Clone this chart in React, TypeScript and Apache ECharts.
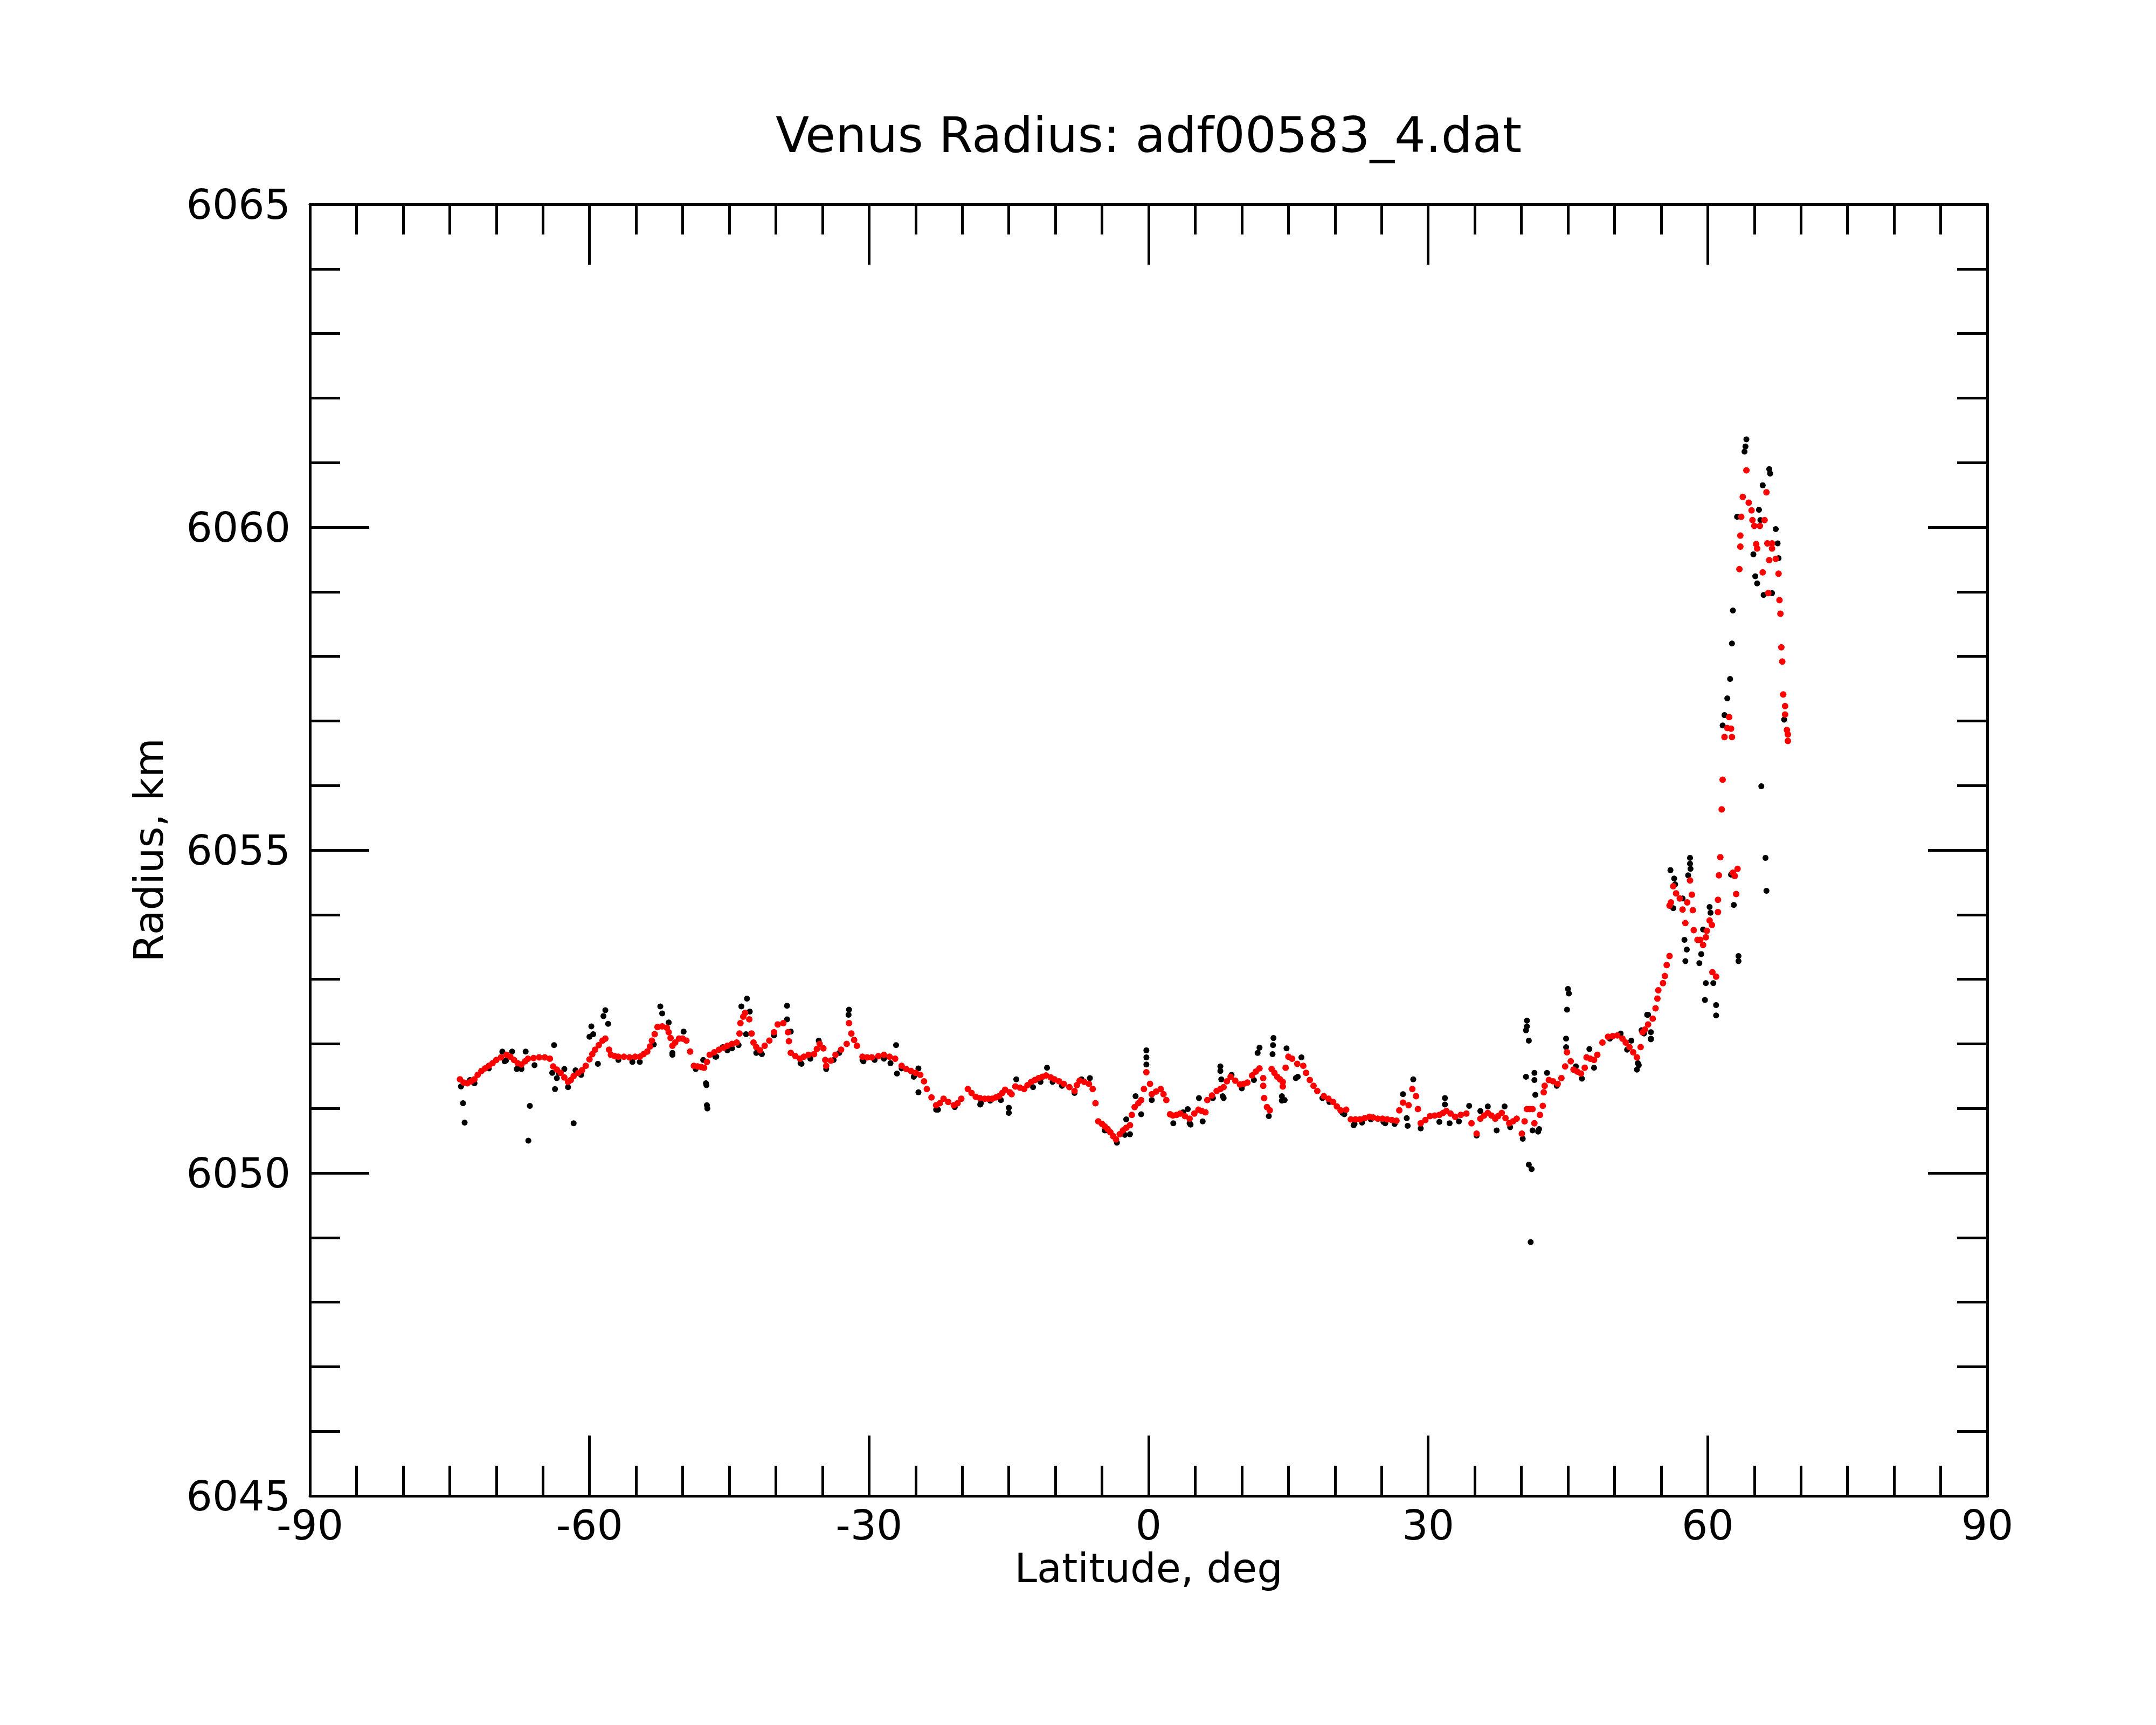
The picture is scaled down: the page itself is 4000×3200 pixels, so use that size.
import React, { useEffect, useRef } from "react";
import * as echarts from "echarts";

// Smoothed radius (red) — latitude (deg) and radius (km)
const redLat = [
  -73.9, -73.5, -73.1, -72.7, -72.35, -72.0, -71.6, -71.2, -70.8, -70.4, -70.0, -69.5, -68.9, -68.5, -68.1, -67.7,
  -67.3, -66.9, -66.6, -66.0, -65.4, -64.8, -64.25, -63.9, -63.5, -63.1, -62.7, -62.3, -62.0, -61.7, -61.2, -60.8,
  -60.4, -60.0, -59.7, -59.4, -59.0, -58.6, -58.3, -57.9, -57.7, -57.3, -56.9, -56.3, -55.7, -55.1, -54.6, -54.2,
  -53.8, -53.5, -53.3, -53.0, -52.7, -52.2, -51.7, -51.5, -51.3, -51.1, -50.8, -50.4, -50.0, -49.6, -49.2, -48.8,
  -48.4, -48.0, -47.7, -47.4, -47.1, -46.6, -46.1, -45.6, -45.2, -44.7, -44.2, -43.9, -43.8, -43.5, -43.3, -42.85,
  -42.6, -42.4, -42.1, -41.7, -41.2, -40.7, -40.2, -39.8, -39.2, -38.7, -38.6, -38.4, -37.9, -37.4, -37.0, -36.5,
  -35.9, -35.6, -35.3, -34.9, -34.7, -34.6, -34.1, -33.6, -33.0, -32.4, -32.15, -31.9, -31.6, -31.3, -30.7, -30.2,
  -29.7, -29.0, -28.4, -27.8, -27.2, -26.5, -26.0, -25.5, -25.0, -24.5, -24.1, -23.8, -23.3, -22.8, -22.4, -22.0,
  -21.5, -20.9, -20.5, -20.1, -19.4, -19.0, -18.55, -18.1, -17.6, -17.2, -16.8, -16.4, -16.05, -15.7, -15.4, -14.9,
  -14.7, -14.3, -13.8, -13.35, -13.0, -12.6, -12.2, -11.8, -11.4, -11.0, -10.5, -10.1, -9.6, -9.1, -8.5, -7.95,
  -7.7, -7.4, -6.9, -6.4, -6.0, -5.7, -5.4, -5.0, -4.7, -4.4, -4.1, -3.8, -3.5, -3.1, -2.75, -2.4,
  -2.0, -1.8, -1.5, -1.1, -0.8, -0.5, -0.24, 0.15, 0.34, 0.8, 1.3, 1.6, 1.9, 2.3, 2.6, 3.0,
  3.4, 3.9, 4.4, 4.9, 5.35, 5.7, 6.1, 6.3, 6.8, 7.3, 7.7, 8.05, 8.4, 8.8, 9.3, 9.8,
  10.2, 10.6, 11.1, 11.5, 11.9, 12.3, 12.3, 12.4, 12.7, 13.0, 13.2, 13.5, 13.8, 14.1, 14.4, 14.4,
  14.7, 15.0, 15.4, 15.95, 16.6, 16.9, 17.3, 17.7, 18.1, 18.8, 19.3, 19.8, 20.2, 20.6, 21.2, 21.7,
  22.2, 22.7, 23.2, 23.7, 24.1, 24.6, 25.1, 25.6, 26.1, 26.6, 26.9, 27.3, 27.9, 28.3, 28.7, 28.9,
  29.2, 29.7, 30.2, 30.7, 31.2, 31.6, 31.95, 32.4, 32.9, 33.5, 34.1, 34.65, 35.2, 35.6, 36.0, 36.4,
  36.8, 37.2, 37.5, 37.9, 38.3, 38.7, 39.1, 39.5, 40.05, 40.35, 40.6, 40.9, 41.2, 41.4, 42.0, 42.3,
  42.4, 42.5, 42.95, 43.4, 43.9, 44.3, 44.7, 44.9, 45.3, 45.6, 46.0, 46.4, 46.8, 47.0, 47.4, 47.8,
  48.15, 48.7, 49.3, 49.8, 50.3, 50.85, 51.2, 51.6, 52.0, 52.4, 52.8, 53.0, 53.25, 53.6, 54.1, 54.4,
  54.6, 54.7, 55.2, 55.4, 55.6, 55.9, 55.9, 56.05, 56.3, 56.6, 57.0, 57.3, 57.6, 57.8, 58.1, 58.3,
  58.4, 58.5, 58.9, 59.2, 59.5, 59.8, 59.9, 60.2, 60.45, 60.5, 60.9, 61.1, 61.1, 61.2, 61.35, 61.5,
  61.6, 61.8, 62.1, 62.3, 62.5, 62.6, 62.7, 62.9, 63.05, 63.2, 63.4, 63.5, 63.5, 63.6, 63.76, 64.15,
  64.4, 64.7, 64.8, 65.0, 65.2, 65.3, 65.6, 65.9, 66.1, 66.3, 66.4, 66.5, 66.6, 66.9, 66.9, 67.3,
  67.6, 67.7, 67.8, 67.9, 68.0, 68.1, 68.3, 68.3, 68.5, 68.6, 68.6,
];
const redRadius = [
  6051.45, 6051.40, 6051.39, 6051.42, 6051.45, 6051.52, 6051.58, 6051.62, 6051.66, 6051.70, 6051.75, 6051.79, 6051.83, 6051.80, 6051.75, 6051.70,
  6051.68, 6051.73, 6051.77, 6051.78, 6051.79, 6051.79, 6051.77, 6051.65, 6051.60, 6051.55, 6051.48, 6051.41, 6051.44, 6051.50, 6051.55, 6051.59,
  6051.66, 6051.76, 6051.84, 6051.91, 6051.98, 6052.05, 6052.08, 6051.91, 6051.83, 6051.81, 6051.80, 6051.80, 6051.79, 6051.80, 6051.80, 6051.84,
  6051.88, 6051.96, 6052.05, 6052.15, 6052.26, 6052.27, 6052.25, 6052.18, 6052.09, 6051.97, 6052.02, 6052.08, 6052.08, 6052.05, 6051.88, 6051.66,
  6051.65, 6051.64, 6051.63, 6051.72, 6051.83, 6051.87, 6051.91, 6051.94, 6051.97, 6052.00, 6052.02, 6052.16, 6052.32, 6052.42, 6052.48, 6052.38,
  6052.16, 6052.02, 6051.95, 6051.90, 6051.97, 6052.05, 6052.18, 6052.30, 6052.32, 6052.18, 6052.04, 6051.86, 6051.81, 6051.77, 6051.80, 6051.83,
  6051.84, 6051.92, 6052.00, 6051.93, 6051.75, 6051.66, 6051.74, 6051.83, 6051.91, 6052.00, 6052.32, 6052.16, 6052.06, 6051.97, 6051.80, 6051.79,
  6051.79, 6051.81, 6051.83, 6051.80, 6051.77, 6051.66, 6051.61, 6051.58, 6051.55, 6051.52, 6051.42, 6051.30, 6051.17, 6051.05, 6051.08, 6051.15,
  6051.10, 6051.05, 6051.08, 6051.15, 6051.30, 6051.24, 6051.18, 6051.16, 6051.15, 6051.15, 6051.15, 6051.17, 6051.19, 6051.24, 6051.29, 6051.25,
  6051.22, 6051.34, 6051.32, 6051.30, 6051.36, 6051.41, 6051.44, 6051.47, 6051.49, 6051.51, 6051.48, 6051.45, 6051.42, 6051.38, 6051.33, 6051.27,
  6051.36, 6051.43, 6051.41, 6051.38, 6051.30, 6051.08, 6050.80, 6050.76, 6050.72, 6050.68, 6050.63, 6050.57, 6050.52, 6050.60, 6050.66, 6050.70,
  6050.74, 6050.90, 6051.02, 6051.08, 6051.13, 6051.30, 6051.56, 6051.38, 6051.22, 6051.26, 6051.30, 6051.22, 6051.13, 6050.91, 6050.89, 6050.90,
  6050.92, 6050.88, 6050.84, 6050.92, 6050.98, 6050.96, 6050.94, 6051.13, 6051.20, 6051.27, 6051.30, 6051.33, 6051.42, 6051.49, 6051.43, 6051.37,
  6051.38, 6051.40, 6051.51, 6051.57, 6051.62, 6051.47, 6051.35, 6051.16, 6051.02, 6050.97, 6051.61, 6051.55, 6051.49, 6051.45, 6051.41, 6051.34,
  6051.63, 6051.80, 6051.77, 6051.69, 6051.66, 6051.55, 6051.44, 6051.35, 6051.27, 6051.19, 6051.15, 6051.10, 6051.03, 6050.97, 6050.98, 6050.83,
  6050.83, 6050.83, 6050.85, 6050.87, 6050.86, 6050.84, 6050.84, 6050.83, 6050.82, 6050.81, 6050.97, 6051.09, 6051.05, 6051.30, 6051.19, 6050.99,
  6050.77, 6050.82, 6050.88, 6050.89, 6050.90, 6050.93, 6050.96, 6050.92, 6050.87, 6050.90, 6050.92, 6050.77, 6050.61, 6050.84, 6050.89, 6050.93,
  6050.89, 6050.84, 6050.88, 6050.93, 6050.85, 6050.77, 6050.80, 6050.84, 6050.61, 6050.80, 6050.99, 6050.99, 6050.99, 6050.77, 6050.90, 6051.04,
  6051.25, 6051.35, 6051.44, 6051.42, 6051.38, 6051.47, 6051.65, 6051.87, 6051.73, 6051.60, 6051.57, 6051.54, 6051.63, 6051.79, 6051.77, 6051.75,
  6051.83, 6052.02, 6052.11, 6052.12, 6052.13, 6052.08, 6052.02, 6051.95, 6051.87, 6051.79, 6051.95, 6052.18, 6052.22, 6052.30, 6052.39, 6052.55,
  6052.70, 6052.83, 6052.94, 6053.05, 6053.22, 6053.36, 6054.14, 6054.19, 6054.44, 6054.33, 6054.25, 6054.08, 6053.87, 6054.19, 6054.53, 6054.31,
  6054.07, 6053.76, 6053.61, 6053.61, 6053.53, 6053.65, 6053.75, 6053.91, 6053.84, 6053.11, 6053.04, 6054.04, 6054.23, 6054.61, 6054.89, 6055.63,
  6056.09, 6056.75, 6056.89, 6057.06, 6056.88, 6056.75, 6054.65, 6054.60, 6054.32, 6054.71, 6059.35, 6059.70, 6059.87, 6060.16, 6060.47, 6060.88,
  6060.38, 6060.26, 6060.11, 6060.02, 6059.74, 6059.67, 6060.02, 6059.30, 6060.11, 6060.54, 6059.75, 6058.98, 6059.49, 6059.75, 6059.67, 6059.51,
  6059.28, 6058.87, 6058.66, 6058.14, 6057.92, 6057.41, 6057.23, 6057.10, 6056.86, 6056.79, 6056.69,
];

// Raw radius (black) — points visible beside / beyond the smoothed curve
const blackLat = [
  -73.79, -72.82, -72.34, -70.8, -69.35, -68.97, -68.3, -67.6, -66.85, -65.9, -73.57, -73.4, -66.4, -66.56,
  -63.8, -63.7, -63.5, -62.3, -61.7, -60.0, -59.8, -59.6, -59.1, -58.5, -58.3, -58.0,
  -52.4, -52.2, -51.5, -51.1, -49.9,
  -47.5, -47.45, -47.4, -47.35, -43.7, -43.1, -42.8, -43.2, -38.8, -38.8, -35.4, -34.6, -32.2, -32.15,
  -27.1, -27.0, -24.7, -24.7, -46.4, -45.2, -41.6, -37.35, -30.7, -29.4, -25.1,
  -15.0, -15.0, -14.2, -10.9, -6.3, -0.24, -0.24, -0.24, -1.4, -0.8, -2.0, -3.4,
  -18.0, -20.8, -9.3, -7.95, -4.7,
  5.4, 7.7, 7.7, 7.8, 11.9, 11.7, 13.4, 13.35, 13.3, 12.9, 14.3, 14.3, 16.0, 14.8,
  27.3, 27.7, 27.8, 28.4, 29.2, 4.4, 5.8, 7.95, 22.1, 25.2, 20.8,
  31.8, 31.8, 34.4, 36.4, 37.35, 35.2, 40.15, 40.6, 40.6, 40.5, 40.8, 40.5, 41.4, 41.4, 41.5,
  41.2, 41.9, 40.8, 41.1, 41.0, 45.0, 45.1, 44.9, 44.8, 44.8, 42.75, 47.3, 52.4, 52.5, 53.9, 53.6, 51.8,
  64.05, 63.95, 64.15, 66.6, 66.7, 65.9, 65.5, 65.65, 63.15, 67.3, 67.5, 64.9, 67.6, 65.1, 65.3,
  66.0, 66.9, 62.7, 62.6, 62.4, 62.1, 61.8, 61.6, 68.2, 65.75, 66.2, 66.3,
  58.1, 58.1, 58.15, 56.0, 56.4, 56.5, 57.9, 60.2, 60.3, 62.8, 62.5, 57.5, 57.75, 57.6,
  59.1, 59.3, 59.5, 63.3, 63.3, 59.8, 60.6, 59.7, 60.9, 60.9, 57.3, 56.3, 53.5, 53.9, 53.9, 53.16,
  -69.1, -67.8, -67.3, -64.0, -63.3, -62.7, -61.5, -60.9, -56.9, -55.4, -54.6, -53.1, -51.1,
  -48.6, -47.8, -46.5, -45.7, -44.7, -44.0, -42.1, -41.5, -40.2, -38.4, -37.25, -36.3, -33.8, -33.2,
  -30.6, -28.4, -27.7, -26.5, -25.2, -22.8,
  -22.6, -18.07, -17.0, -15.85, -12.4, -11.6, -10.3, -7.2, -4.4, -2.55, -2.4, 0.34, 2.65,
  3.7, 4.2, 4.5, 6.9, 8.05, 8.9, 10.0, 11.3, 14.6, 15.8, 16.4, 18.65, 19.4, 21.0, 22.0, 22.9, 23.85, 25.4, 26.4,
  31.2, 32.3, 33.3, 35.6, 38.2, 38.8, 41.8, 43.8, 45.85, 46.5, 47.8, 49.5, 50.65, 51.35, 52.6, 52.9,
];
const blackRadius = [
  6051.34, 6051.44, 6051.39, 6051.62, 6051.88, 6051.74, 6051.88, 6051.63, 6051.88, 6051.67, 6051.08, 6050.78, 6051.04, 6050.50,
  6051.98, 6051.30, 6051.47, 6051.33, 6050.77, 6052.11, 6052.27, 6052.15, 6051.69, 6052.43, 6052.52, 6052.31,
  6052.58, 6052.47, 6052.33, 6051.83, 6052.19,
  6051.39, 6051.36, 6051.05, 6051.00, 6052.58, 6052.70, 6052.50, 6052.15, 6052.59, 6052.38, 6052.05, 6051.61, 6052.45, 6052.53,
  6051.98, 6051.54, 6051.62, 6051.25, 6051.80, 6051.90, 6051.86, 6051.70, 6051.75, 6051.75, 6051.52,
  6051.01, 6050.93, 6051.45, 6051.63, 6051.47, 6051.90, 6051.79, 6051.68, 6051.19, 6050.91, 6050.60, 6050.47,
  6051.08, 6051.02, 6051.35, 6051.24, 6050.66,
  6051.16, 6051.65, 6051.58, 6051.45, 6051.94, 6051.86, 6052.09, 6051.98, 6051.84, 6050.88, 6051.19, 6051.12, 6051.49, 6051.93,
  6051.22, 6050.85, 6050.73, 6051.45, 6050.69, 6050.77, 6050.80, 6051.19, 6050.76, 6050.79, 6050.93,
  6051.16, 6051.06, 6051.04, 6051.03, 6050.66, 6050.58, 6050.53, 6052.36, 6052.27, 6052.21, 6052.05, 6051.49, 6051.55, 6051.44, 6051.21,
  6050.66, 6050.68, 6050.13, 6050.06, 6048.93, 6052.85, 6052.78, 6052.53, 6052.08, 6051.95, 6051.55, 6051.92, 6051.60, 6051.70, 6052.08, 6052.45, 6052.05,
  6061.25, 6061.17, 6061.36, 6060.90, 6060.83, 6060.65, 6060.27, 6060.11, 6060.16, 6059.97, 6059.75, 6059.58, 6059.52, 6059.24, 6059.13,
  6058.95, 6058.98, 6058.71, 6058.20, 6057.65, 6057.35, 6057.09, 6056.93, 6057.02, 6055.99, 6054.88, 6054.37,
  6054.88, 6054.79, 6054.71, 6054.69, 6054.56, 6054.47, 6054.61, 6054.12, 6054.03, 6054.15, 6054.62, 6053.61, 6053.46, 6053.28,
  6053.25, 6053.39, 6053.77, 6053.36, 6053.28, 6052.94, 6052.94, 6052.68, 6052.60, 6052.44, 6054.25, 6054.10, 6052.45, 6052.18, 6052.07, 6052.16,
  6051.73, 6051.61, 6051.61, 6051.55, 6051.55, 6051.61, 6051.59, 6051.52, 6051.75, 6051.72, 6051.72, 6051.99, 6051.86,
  6051.61, 6051.75, 6051.80, 6051.95, 6051.93, 6051.98, 6051.86, 6051.84, 6052.13, 6052.19, 6051.69, 6051.77, 6051.75, 6051.86,
  6051.73, 6051.77, 6051.70, 6051.62, 6051.49, 6050.98,
  6050.98, 6051.06, 6051.12, 6051.13, 6051.33, 6051.41, 6051.41, 6051.45, 6050.66, 6050.59, 6050.83, 6051.13, 6050.77,
  6050.94, 6050.99, 6050.75, 6051.16, 6051.16, 6051.52, 6051.31, 6051.44, 6051.13, 6051.47, 6051.79, 6051.16, 6051.10, 6050.91, 6050.74, 6050.78, 6050.83, 6050.77, 6050.76,
  6050.79, 6050.77, 6050.80, 6050.96, 6051.03, 6050.71, 6050.64, 6051.35, 6051.65, 6051.46, 6051.63, 6052.08, 6052.16, 6051.91, 6051.67, 6052.21,
];

const X_MIN = -90;
const X_MAX = 90;
const X_STEP = 30;
const Y_MIN = 6045;
const Y_MAX = 6065;
const Y_STEP = 5;

const TITLE = "Venus Radius: adf00583_4.dat";
const X_NAME = "Latitude, deg";
const Y_NAME = "Radius, km";

const FONT = "DejaVu Sans";

function buildOption() {
  const line = { color: "#000", width: 5 };
  const xCommon = {
    type: "value",
    min: X_MIN,
    max: X_MAX,
    interval: X_STEP,
    axisLine: { show: true, onZero: false, lineStyle: line },
    axisTick: { show: true, inside: true, length: 112, lineStyle: line },
    minorTick: { show: true, splitNumber: 6, length: 56, lineStyle: line },
    splitLine: { show: false },
    minorSplitLine: { show: false },
  };
  const yCommon = {
    type: "value",
    min: Y_MIN,
    max: Y_MAX,
    interval: Y_STEP,
    axisLine: { show: true, onZero: false, lineStyle: line },
    axisTick: { show: true, inside: true, length: 110, lineStyle: line },
    minorTick: { show: true, splitNumber: 5, length: 56, lineStyle: line },
    splitLine: { show: false },
    minorSplitLine: { show: false },
  };
  return {
    animation: false,
    backgroundColor: "#ffffff",
    textStyle: { fontFamily: FONT },
    graphic: [
      {
        type: "text",
        x: 2131,
        y: 250,
        style: {
          text: TITLE,
          font: `91px "${FONT}"`,
          fontFamily: FONT,
          fontSize: 91,
          fill: "#000",
          align: "center",
          verticalAlign: "middle",
        },
      },
    ],
    grid: { left: 575, top: 379, right: 313, bottom: 425, containLabel: false },
    xAxis: [
      {
        ...xCommon,
        position: "bottom",
        name: X_NAME,
        nameLocation: "middle",
        nameGap: 90,
        nameTextStyle: { fontFamily: FONT, fontSize: 75, color: "#000" },
        axisLabel: { show: true, margin: 16, fontFamily: FONT, fontSize: 76, color: "#000", formatter: (v: number) => String(v) },
      },
      { ...xCommon, position: "top", axisLabel: { show: false } },
    ],
    yAxis: [
      {
        ...yCommon,
        position: "left",
        name: Y_NAME,
        nameLocation: "middle",
        nameRotate: 90,
        nameGap: 262,
        nameTextStyle: { fontFamily: FONT, fontSize: 75, color: "#000" },
        axisLabel: { show: true, margin: 36, fontFamily: FONT, fontSize: 76, color: "#000", formatter: (v: number) => String(v) },
      },
      { ...yCommon, position: "right", axisLabel: { show: false } },
    ],
    series: [
      {
        name: "raw",
        type: "scatter",
        xAxisIndex: 0,
        yAxisIndex: 0,
        symbol: "circle",
        symbolSize: 11,
        itemStyle: { color: "#000000", opacity: 1 },
        data: blackLat.map((v, i) => [v, blackRadius[i]]),
        z: 2,
      },
      {
        name: "smoothed",
        type: "scatter",
        xAxisIndex: 0,
        yAxisIndex: 0,
        symbol: "circle",
        symbolSize: 12,
        itemStyle: { color: "#ff0000", opacity: 1 },
        data: redLat.map((v, i) => [v, redRadius[i]]),
        z: 3,
      },
    ],
  };
}

export default function App() {
  const ref = useRef<HTMLDivElement>(null);
  useEffect(() => {
    if (!ref.current) return;
    const chart = echarts.init(ref.current, null, { renderer: "svg" });
    chart.setOption(buildOption() as any);
    return () => chart.dispose();
  }, []);
  return (
    <div
      ref={ref}
      style={{ position: "absolute", left: 0, top: 0, width: 4000, height: 3200, background: "#ffffff" }}
    />
  );
}
